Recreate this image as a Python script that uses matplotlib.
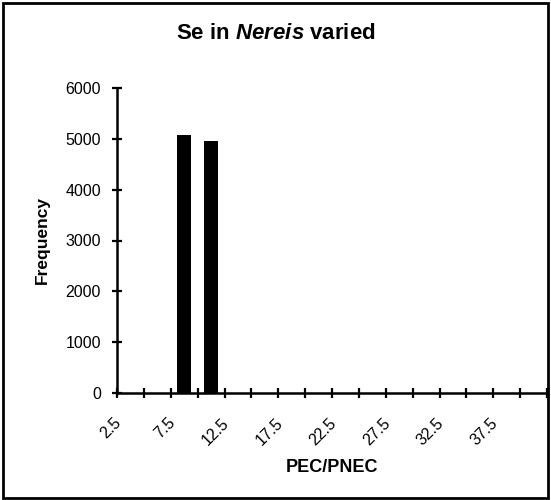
import matplotlib
matplotlib.use("Agg")
import matplotlib.pyplot as plt
from matplotlib.patches import Rectangle
from matplotlib.transforms import ScaledTranslation

plt.rcParams['font.family'] = ['Liberation Sans', 'DejaVu Sans']
plt.rcParams['mathtext.fontset'] = 'custom'
plt.rcParams['mathtext.bfit'] = 'Liberation Sans:bold:italic'
plt.rcParams['mathtext.rm'] = 'Liberation Sans'

categories = [2.5, 5, 7.5, 10, 12.5, 15, 17.5, 20, 22.5, 25, 27.5, 30, 32.5, 35, 37.5, 40]
frequency = [0, 0, 5070, 4960, 0, 0, 0, 0, 0, 0, 0, 0, 0, 0, 0, 0]
y_ticks = [0, 1000, 2000, 3000, 4000, 5000, 6000]

W, H = 551, 500
fig = plt.figure(figsize=(W / 100, H / 100), dpi=100)
ax = fig.add_axes([117 / W, 1 - 393 / H, (547 - 117) / W, (393 - 88) / H])

n = len(categories)
xs = list(range(n))
ax.bar(xs, frequency, width=0.5, color='black', edgecolor='black', linewidth=0)

ax.set_xlim(-0.5, n - 0.5)
ax.set_ylim(0, 6000)
ax.set_yticks(y_ticks)
ax.set_yticklabels([str(v) for v in y_ticks], fontsize=11.5)

# major ticks at category boundaries (no labels)
ax.set_xticks([i - 0.5 for i in range(n + 1)])
ax.set_xticklabels([])
# labels at every other category center
lab_idx = xs[::2]
ax.set_xticks(lab_idx, minor=True)
ax.set_xticklabels([f"{categories[i]:g}" for i in lab_idx], minor=True,
                   rotation=45, ha='right', va='top', fontsize=11.5)
ax.tick_params(axis='x', which='minor', length=0, pad=16)
ax.tick_params(axis='x', which='major', direction='inout', length=7, width=1.6)
ax.tick_params(axis='y', direction='inout', length=7, width=1.6, pad=8)
off = ScaledTranslation(-6 / 100, 0, fig.dpi_scale_trans)
for lbl in ax.get_xticklabels(minor=True):
    lbl.set_transform(lbl.get_transform() + off)

for s in ['top', 'right']:
    ax.spines[s].set_visible(False)
for s in ['left', 'bottom']:
    ax.spines[s].set_linewidth(1.8)
ax.patch.set_visible(False)

fig.text(0.5, 1 - 33 / H, r"Se in $\mathbfit{Nereis}$ varied", ha='center', va='center',
         fontsize=16, fontweight='bold')
fig.text(42 / W, 1 - 240 / H, "Frequency", rotation=90, ha='center', va='center',
         fontsize=12.5, fontweight='bold')
fig.text(332 / W, 1 - 467 / H, "PEC/PNEC", ha='center', va='center',
         fontsize=13, fontweight='bold')

fig.patches.append(Rectangle((3 / W, 2 / H), (548 - 3) / W, (497 - 2) / H,
                             transform=fig.transFigure, fill=False,
                             edgecolor='black', linewidth=2))

fig.savefig("out.png", dpi=100)
